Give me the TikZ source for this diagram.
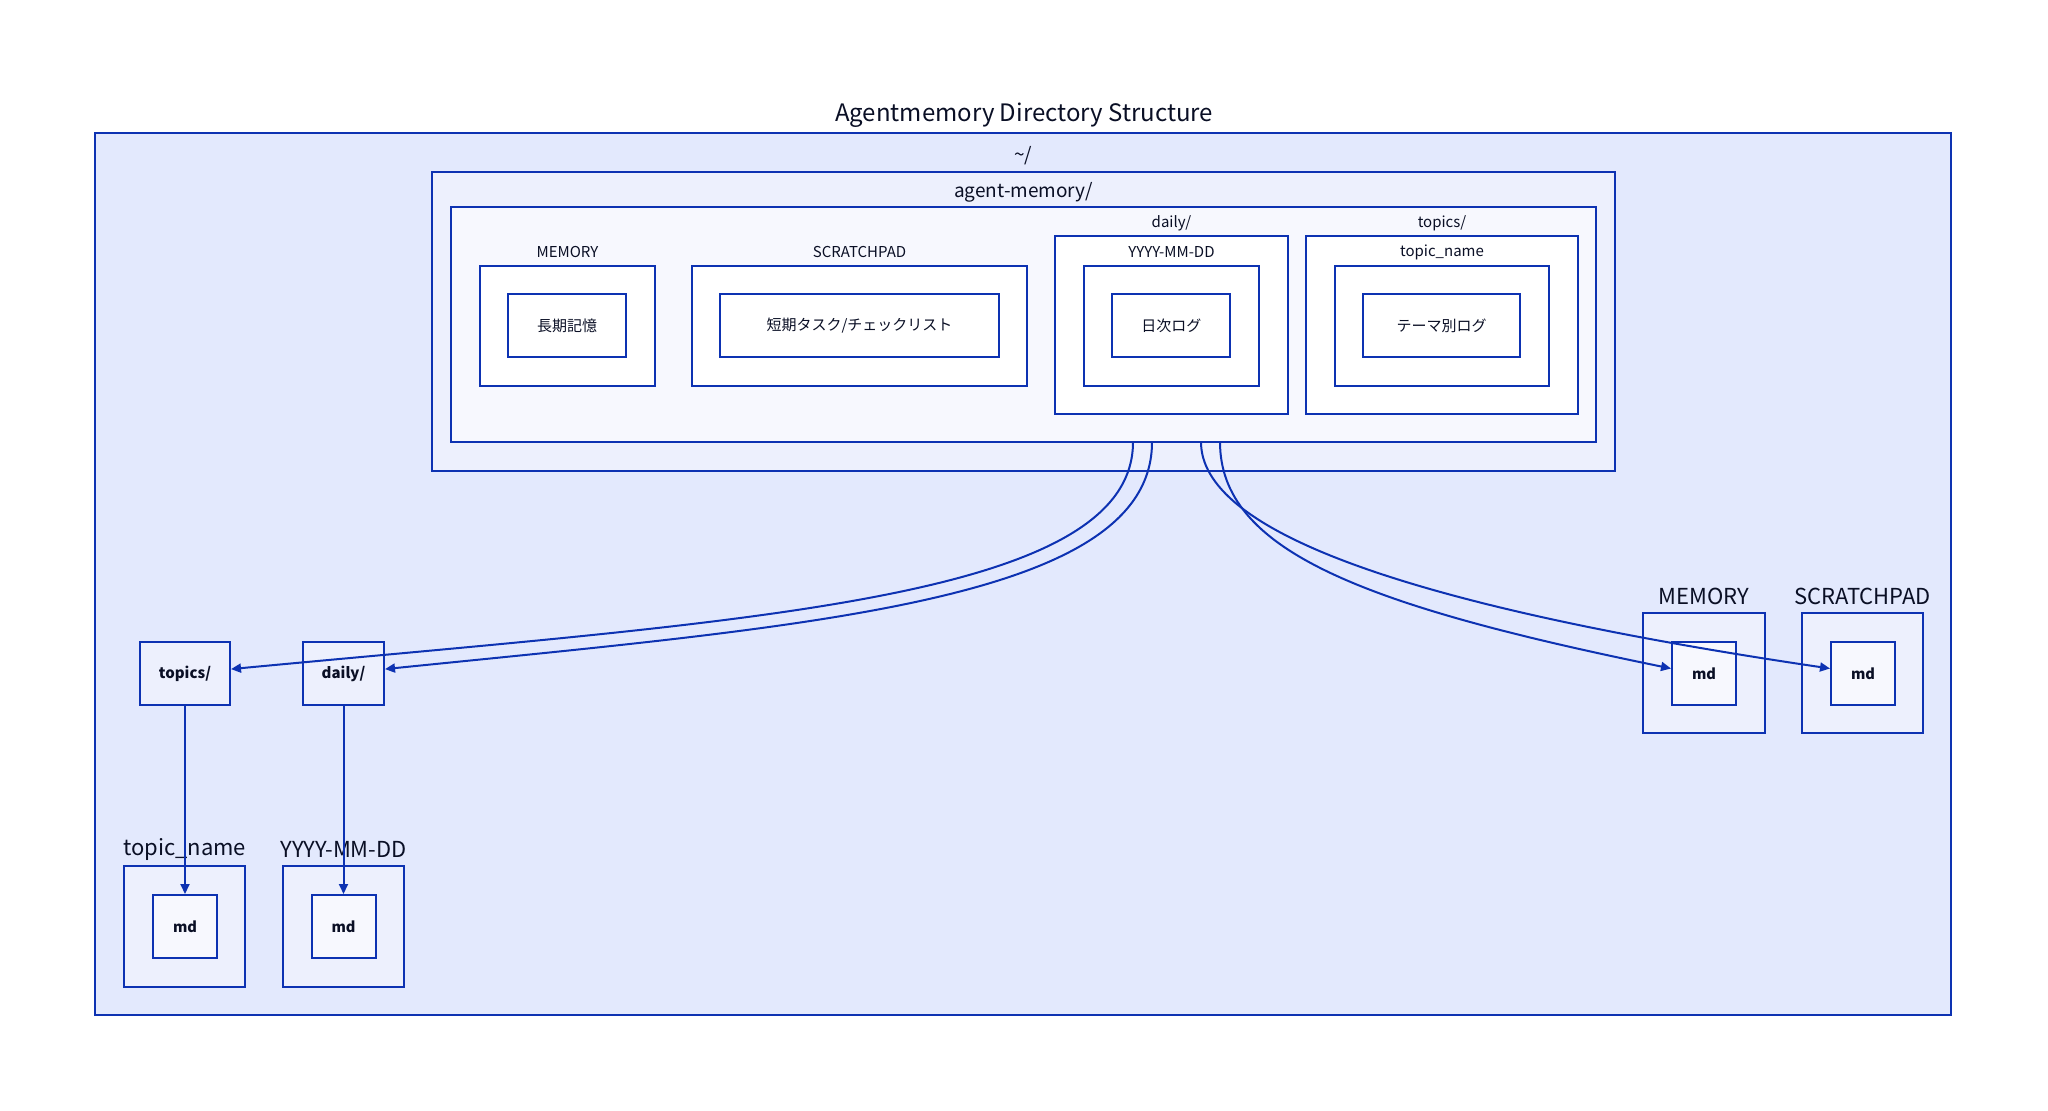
\documentclass[tikz,border=0pt]{standalone}
\usepackage{fontspec}
\setmainfont{Noto Sans CJK JP}
\usepackage{xcolor}
\usepackage{tikz}
\usetikzlibrary{arrows.meta}

\definecolor{dline}{HTML}{0D32B2}
\definecolor{dtext}{HTML}{0A0F25}
\definecolor{lvA}{HTML}{E3E9FD}
\definecolor{lvB}{HTML}{EDF0FD}
\definecolor{lvC}{HTML}{F7F8FE}

\begin{document}
\begin{tikzpicture}[x=0.5pt, y=-0.5pt,
    box/.style={draw=dline, line width=1pt, rectangle, inner sep=0pt, text=dtext},
    lbl/.style={text=dtext, inner sep=0pt},
    big/.style={lbl, font=\fontsize{11pt}{13pt}\selectfont},
    small/.style={lbl, font=\fontsize{7.5pt}{9pt}\selectfont},
    file/.style={box, fill=lvC, minimum width=32pt, minimum height=31.5pt, font=\fontsize{7.3pt}{9pt}\selectfont\bfseries},
    link/.style={dline, line width=1pt, -{Triangle[length=5pt,width=4.5pt]}}]
    \fill[white] (0,0) rectangle (2048,1111);
    \useasboundingbox (0,0) rectangle (2048,1111);

    \node[lbl, font=\fontsize{12pt}{14pt}\selectfont] (title) at (1024,115) {Agentmemory Directory Structure};

    \node[box, fill=lvA, minimum width=928pt, minimum height=441pt] (root) at (1023,574) {};
    \node[lbl, font=\fontsize{9.5pt}{11pt}\selectfont] (rootLbl) at (1023,156) {\textasciitilde/};

    \node[box, fill=lvB, minimum width=591.5pt, minimum height=149.5pt] (agent) at (1023.5,321.5) {};
    \node[lbl, font=\fontsize{9.5pt}{11pt}\selectfont] (agentLbl) at (1023.5,192) {agent-memory/};
    \node[box, fill=lvC, minimum width=572.5pt, minimum height=117.5pt] (inner) at (1023.5,324.5) {};

    \node[box, fill=white, minimum width=116.5pt, minimum height=89pt] (daily) at (1171.5,325) {};
    \node[small] (dailyLbl) at (1171.5,223) {daily/};
    \node[box, fill=white, minimum width=136pt, minimum height=89pt] (topics) at (1442,325) {};
    \node[small] (topicsLbl) at (1442,223) {topics/};

    \node[box, fill=white, minimum width=87.5pt, minimum height=60pt] (memory) at (567.5,326) {};
    \node[small] (memoryLbl) at (567.5,252) {MEMORY};
    \node[box, fill=white, minimum width=167.5pt, minimum height=60pt] (scratch) at (859.5,326) {};
    \node[small] (scratchLbl) at (859.5,252) {SCRATCHPAD};
    \node[box, fill=white, minimum width=87.5pt, minimum height=60pt] (ymd) at (1171.5,326) {};
    \node[small] (ymdLbl) at (1171.5,252) {YYYY-MM-DD};
    \node[box, fill=white, minimum width=107pt, minimum height=60pt] (tname) at (1442,326) {};
    \node[small] (tnameLbl) at (1442,252) {topic\_name};

    \node[box, fill=white, minimum width=59pt, minimum height=31.5pt, font=\fontsize{7.5pt}{9pt}\selectfont] (longterm) at (567,325.5) {長期記憶};
    \node[box, fill=white, minimum width=139.5pt, minimum height=31.5pt, font=\fontsize{7.5pt}{9pt}\selectfont] (shortterm) at (859.5,325.5) {短期タスク/チェックリスト};
    \node[box, fill=white, minimum width=59pt, minimum height=31.5pt, font=\fontsize{7.5pt}{9pt}\selectfont] (dailylog) at (1171.3,325.5) {日次ログ};
    \node[box, fill=white, minimum width=78.5pt, minimum height=31.5pt, font=\fontsize{7.5pt}{9pt}\selectfont] (topiclog) at (1441.5,325.5) {テーマ別ログ};

    \node[box, fill=lvB, minimum width=45pt, minimum height=31.5pt, font=\fontsize{7.5pt}{9pt}\selectfont\bfseries] (topicsDir) at (185,673.5) {topics/};
    \node[box, fill=lvB, minimum width=40.5pt, minimum height=31.5pt, font=\fontsize{7.5pt}{9pt}\selectfont\bfseries] (dailyDir) at (343.5,673.5) {daily/};

    \node[box, fill=lvB, minimum width=60.5pt, minimum height=60.5pt] (tnameBox) at (184.5,926.5) {};
    \node[big] (tnameBoxLbl) at (184.5,849) {topic\_name};
    \node[file] (tnameMd) at (185,926.5) {md};
    \node[box, fill=lvB, minimum width=60.5pt, minimum height=60.5pt] (ymdBox) at (343.5,926.5) {};
    \node[big] (ymdBoxLbl) at (343.5,849) {YYYY-MM-DD};
    \node[file] (ymdMd) at (343.5,926.5) {md};

    \node[box, fill=lvB, minimum width=61pt, minimum height=60pt] (memBox) at (1704,673) {};
    \node[big] (memBoxLbl) at (1704,596) {MEMORY};
    \node[file] (memMd) at (1704,673.5) {md};
    \node[box, fill=lvB, minimum width=60.5pt, minimum height=60pt] (scrBox) at (1862.5,673) {};
    \node[big] (scrBoxLbl) at (1862.5,596) {SCRATCHPAD};
    \node[file] (scrMd) at (1863,673.5) {md};

    \coordinate (outTopics) at (1133,442);
    \coordinate (outDaily) at (1152,442);
    \coordinate (outScratch) at (1201,442);
    \coordinate (outMemory) at (1220,442);

    \draw[link] (outTopics) .. controls (1133,600) and (750,620) .. ([yshift=2.2pt]topicsDir.east);
    \draw[link] (outDaily) .. controls (1152,600) and (820,625) .. ([yshift=2.2pt]dailyDir.east);
    \draw[link] (outScratch) .. controls (1201,530) and (1400,605) .. ([yshift=2.5pt]scrMd.west);
    \draw[link] (outMemory) .. controls (1220,550) and (1360,605) .. ([yshift=2.5pt]memMd.west);
    \draw[link] (topicsDir) -- (tnameMd);
    \draw[link] (dailyDir) -- (ymdMd);
\end{tikzpicture}
\end{document}
